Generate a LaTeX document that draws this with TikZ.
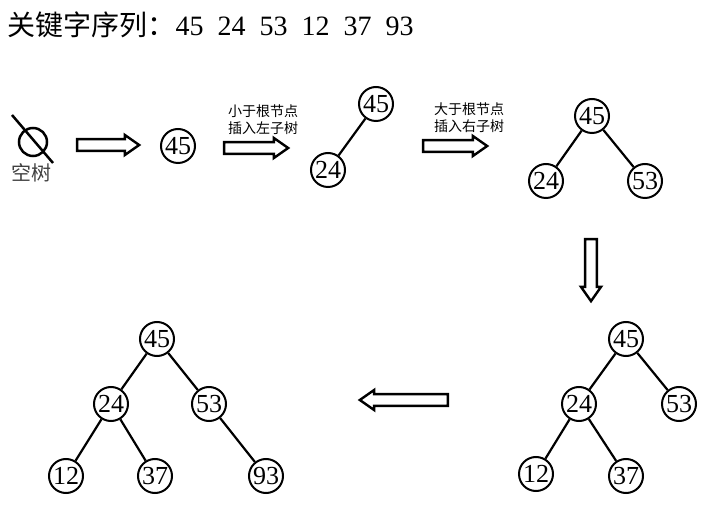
\documentclass[tikz,border=0pt]{standalone}
\usepackage{fontspec}
\setmainfont{Liberation Serif}
\newfontfamily\cjk{Noto Sans CJK SC}
\usetikzlibrary{shapes.arrows}
\begin{document}
\begin{tikzpicture}[x=1pt,y=-1pt,
  nd/.style={circle,draw,line width=2pt,minimum size=34pt,inner sep=0pt,font=\fontsize{26}{26}\selectfont},
  edge/.style={line width=2.2pt},
  barrow/.style={single arrow,draw,line width=2.4pt,fill=white,minimum width=20pt,single arrow head extend=3pt,single arrow tip angle=70,inner sep=3pt},
  lbl/.style={font=\cjk\fontsize{14}{17}\selectfont,align=left}]
\useasboundingbox (0,0) rectangle (705,510);
\node[anchor=west,font=\fontsize{28}{28}\selectfont] (title) at (4,25) {{\cjk\fontsize{28}{28}\selectfont 关键字序列：}45\hspace{14pt}24\hspace{14pt}53\hspace{14pt}12\hspace{14pt}37\hspace{14pt}93};
% empty tree
\node[circle,draw,line width=2.5pt,minimum size=28pt,inner sep=0pt] (e) at (33,142) {};
\coordinate (s1) at (12,115); \coordinate (s2) at (53,163);
\draw[line width=2.5pt] (s1) -- (s2);
\node[font=\cjk\fontsize{20}{20}\selectfont,text=black!75] (et) at (32,173) {空树};
\node[barrow,minimum height=62pt] (a1) at (104,145) {};
\node[nd] (t1) at (178,146) {45};
\node[barrow,minimum height=64pt] (a2) at (252,148) {};
\node[lbl] (l2) at (263,120) {小于根节点\\插入左子树};
\node[nd] (t2a) at (376,104) {45};
\node[nd] (t2b) at (328,170) {24};
\draw[edge] (t2a) -- (t2b);
\node[barrow,minimum height=64pt] (a3) at (451,146) {};
\node[lbl] (l3) at (469,118) {大于根节点\\插入右子树};
\node[nd] (t3a) at (592,116) {45};
\node[nd] (t3b) at (546,181) {24};
\node[nd] (t3c) at (645,181) {53};
\draw[edge] (t3a) -- (t3b); \draw[edge] (t3a) -- (t3c);
\node[barrow,minimum height=62pt,shape border rotate=270] (a4) at (591,266) {};
\node[nd] (u1) at (626,339) {45};
\node[nd] (u2) at (579,404) {24};
\node[nd] (u3) at (679,404) {53};
\node[nd] (u4) at (536,474) {12};
\node[nd] (u5) at (626,476) {37};
\draw[edge] (u1) -- (u2); \draw[edge] (u1) -- (u3);
\draw[edge] (u2) -- (u4); \draw[edge] (u2) -- (u5);
\node[barrow,minimum height=88pt,shape border rotate=180] (a5) at (408,400) {};
\node[nd] (v1) at (157,339) {45};
\node[nd] (v2) at (111,404) {24};
\node[nd] (v3) at (209,404) {53};
\node[nd] (v4) at (66,476) {12};
\node[nd] (v5) at (155,476) {37};
\node[nd] (v6) at (266,476) {93};
\draw[edge] (v1) -- (v2); \draw[edge] (v1) -- (v3);
\draw[edge] (v2) -- (v4); \draw[edge] (v2) -- (v5);
\draw[edge] (v3) -- (v6);
\end{tikzpicture}
\end{document}
